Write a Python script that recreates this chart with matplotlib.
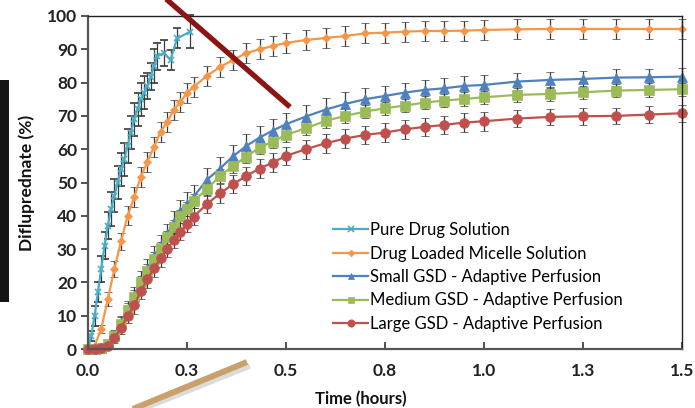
#!/usr/bin/env python3
"""
Difluprednate release profiles - recreated chart
"""

import matplotlib
matplotlib.use("Agg")
import matplotlib.pyplot as plt
from matplotlib.lines import Line2D
from matplotlib.patches import Rectangle

# Sampling times (minutes) shared by the micelle and GSD series
TIME_MIN = [0, 1, 2, 3, 4, 5, 6, 7, 8, 9, 10, 11, 12, 13, 14, 15, 16,
            18, 20, 22, 24, 26, 28, 30,
            33, 36, 39, 42, 45, 48, 51, 54, 57, 60,
            65, 70, 75, 80, 85, 90]

# Pure drug solution was sampled more often and stops early
PURE_TIME_MIN = [0, 0.5, 1, 1.5, 2, 2.5, 3, 3.5, 4, 4.5, 5, 5.5, 6, 6.5, 7, 7.5,
                 8, 8.5, 9, 9.5, 10, 10.5, 11.5, 12.5, 13.5, 15.5]
PURE_VALUES = [0, 4, 10, 17, 24, 31, 37, 42, 46, 50, 54, 57, 61, 65, 69, 72,
               75, 77, 79, 81.8, 85, 87.9, 88.9, 86.8, 93.3, 95.3]
PURE_ERR = [0.5, 1.5, 3, 3, 4, 4, 4, 5, 5, 5, 5, 5, 5, 5, 5, 5,
            5, 5, 4, 4, 5, 4, 4, 3, 3, 5]

MICELLE_VALUES = [0, 1, 6, 15, 24, 32.3, 40, 45.6, 51.7, 56.2, 60.7, 65.2, 68.2, 71.8, 74.2, 76.9, 78.7,
                  82, 84.7, 86.8, 88.9, 90, 91, 91.9,
                  92.8, 93.4, 94, 94.8, 95, 95.3, 95.5, 95.5, 95.6, 95.8,
                  96, 96.1, 96.1, 96.1, 96.1, 96.1]
MICELLE_ERR = [0.3, 0.5, 1.2, 2, 2.5, 2.5, 2.8, 3, 3, 3, 3, 3, 3, 3, 3, 3, 3,
               3, 3, 3, 3, 3, 3, 3,
               3, 3, 3, 3, 3, 3, 3, 3, 3, 3,
               3, 3, 3, 3, 3, 3]

SMALL_VALUES = [0, 0, 0.3, 1.5, 4.2, 7.8, 12, 16, 20.5, 24, 27.8, 31.2, 34.6, 38, 41.3, 43.5, 45.7,
                50.8, 54.2, 57.9, 61, 63.5, 65.6, 67.5,
                69.8, 71.9, 73.6, 75, 76, 77, 77.8, 78.3, 79, 79.3,
                80.3, 80.8, 81.1, 81.5, 81.6, 81.8]
SMALL_ERR = [0.2, 0.3, 0.5, 1, 1.5, 2, 2.5, 2.5, 3, 3, 3, 3, 3, 3.5, 3.5, 3.5, 3.5,
             3.5, 3.5, 3.5, 3.5, 3.5, 3.5, 3.5,
             3.5, 3.5, 3.5, 3.3, 3, 3, 3, 3, 3, 3,
             2.5, 2.5, 2.5, 2.5, 2.5, 2.5]

MEDIUM_VALUES = [0, 0, 0.3, 1.5, 4, 7.5, 11.7, 15.7, 20, 23.5, 27, 30.2, 33.5, 36.7, 39.8, 42, 44.4,
                 48, 52, 55, 57.8, 60.5, 62.3, 64.3,
                 66.3, 68.5, 70, 71.3, 72.3, 73.1, 74, 74.6, 75.1, 75.6,
                 76.3, 76.6, 77.1, 77.6, 77.8, 78]
MEDIUM_ERR = [0.2, 0.3, 0.5, 1, 1.5, 2, 2, 2, 2, 2, 2, 2, 2, 2, 2, 2, 2,
              2, 2, 2, 2, 2, 2, 2,
              2, 2, 2, 2, 2, 2, 2, 2, 2, 2,
              2, 2, 2, 2, 2, 2]

LARGE_VALUES = [0, 0, 0.2, 0.9, 3.2, 6.4, 9.9, 13.1, 17.4, 20.9, 24.2, 27.2, 30, 32.7, 35.2, 37.5, 39.7,
                43.5, 46.7, 49.5, 52, 54.2, 56, 58,
                60, 61.8, 63.2, 64.3, 65, 66, 66.7, 67.3, 68, 68.4,
                69.2, 69.7, 69.9, 70, 70.4, 70.8]
LARGE_ERR = [0.2, 0.3, 0.5, 1, 1.5, 2, 2, 2.5, 2.5, 2.5, 2.5, 2.5, 2.5, 2.5, 2.5, 2.5, 2.5,
             2.8, 2.8, 2.8, 2.8, 2.8, 2.8, 2.8,
             2.8, 2.8, 2.8, 2.8, 2.8, 2.8, 2.8, 2.8, 2.8, 2.8,
             2.5, 2.5, 2.5, 2.5, 2.5, 2.5]

X_TICKS = [0, 0.25, 0.5, 0.75, 1.0, 1.25, 1.5]
X_TICK_LABELS = ["0.0", "0.3", "0.5", "0.8", "1.0", "1.3", "1.5"]
Y_TICKS = [0, 10, 20, 30, 40, 50, 60, 70, 80, 90, 100]

FONT = ["Lato", "DejaVu Sans"]
W, H = 695, 408


def hours(minutes):
    return [m / 60.0 for m in minutes]


def main():
    plt.rcParams['font.family'] = FONT
    fig = plt.figure(figsize=(W / 100, H / 100), dpi=100)
    ax = fig.add_axes([88 / W, 1 - 349 / H, (682 - 88) / W, (349 - 16) / H])

    series = [
        (hours(PURE_TIME_MIN), PURE_VALUES, PURE_ERR, "Pure Drug Solution", "#4BACC6", "x", 5),
        (hours(TIME_MIN), MICELLE_VALUES, MICELLE_ERR, "Drug Loaded Micelle Solution", "#F79646", "D", 4.5),
        (hours(TIME_MIN), SMALL_VALUES, SMALL_ERR, "Small GSD - Adaptive Perfusion", "#4F81BD", "^", 6.5),
        (hours(TIME_MIN), MEDIUM_VALUES, MEDIUM_ERR, "Medium GSD - Adaptive Perfusion", "#9BBB59", "s", 6.5),
        (hours(TIME_MIN), LARGE_VALUES, LARGE_ERR, "Large GSD - Adaptive Perfusion", "#C0504D", "o", 7),
    ]

    for x, y, err, label, color, marker, ms in series:
        ax.errorbar(x, y, yerr=err, color=color, lw=1.6, marker=marker, ms=ms,
                    mec=color, mfc=color, mew=1.2 if marker == "x" else 0.5,
                    ecolor="#3a3a3a", elinewidth=0.9, capsize=3, capthick=0.9,
                    label=label, clip_on=False)

    ax.set_xlim(0, 1.5)
    ax.set_ylim(0, 100)
    ax.set_xticks(X_TICKS)
    ax.set_xticklabels(X_TICK_LABELS)
    ax.set_yticks(Y_TICKS)
    ax.tick_params(axis="x", direction="in", length=5, width=1.2, pad=10, colors="#333333",
                   labelcolor="#222222", labelsize=12.5)
    ax.tick_params(axis="y", direction="out", length=5, width=1.2, pad=3, colors="#333333",
                   labelcolor="#222222", labelsize=12.5)
    for lbl in ax.get_xticklabels() + ax.get_yticklabels():
        lbl.set_fontweight("bold")

    for side, spine in ax.spines.items():
        spine.set_color("#555555" if side in ("left", "bottom") else "#222222")
        spine.set_linewidth(1.6 if side in ("left", "bottom") else 1.0)

    ax.set_xlabel("Time (hours)", fontsize=12, fontweight="bold", color="#111111")
    ax.xaxis.set_label_coords((361 - 88) / 594, -(391 - 349) / 333)
    ax.set_ylabel("Difluprednate (%)", fontsize=12.5, fontweight="bold", color="#111111")
    ax.yaxis.set_label_coords(-(88 - 35) / 594, 0.5)

    # Legend sits inside the plot, no frame
    handles, labels = ax.get_legend_handles_labels()
    handles = [h[0] for h in handles]
    ax.legend(handles, labels, loc="upper left", bbox_to_anchor=((333 - 88) / 594, (349 - 222) / 333),
              frameon=False, fontsize=12, handlelength=2.1, handletextpad=0.12,
              labelspacing=0.45, borderpad=0, borderaxespad=0, markerscale=0.75)

    # Screenshot leftovers: annotation strokes and the dark strip on the left
    fig.add_artist(Rectangle((0, 1 - 302 / H), 9 / W, (302 - 80) / H, transform=fig.transFigure,
                             facecolor="#151515", edgecolor="none"))
    fig.add_artist(Line2D([165 / W, 290 / W], [1 + 2 / H, 1 - 107 / H], transform=fig.transFigure,
                          color="#8B1414", lw=3.8, solid_capstyle="butt"))
    fig.add_artist(Line2D([130 / W, 250 / W], [1 - 414 / H, 1 - 366 / H], transform=fig.transFigure,
                          color="#bbbbbb", lw=4.0, alpha=0.5, solid_capstyle="butt"))
    fig.add_artist(Line2D([128 / W, 247 / W], [1 - 411 / H, 1 - 362 / H], transform=fig.transFigure,
                          color="#C9A16A", lw=4.3, solid_capstyle="butt"))

    fig.savefig("out.png", dpi=100)


if __name__ == "__main__":
    main()
